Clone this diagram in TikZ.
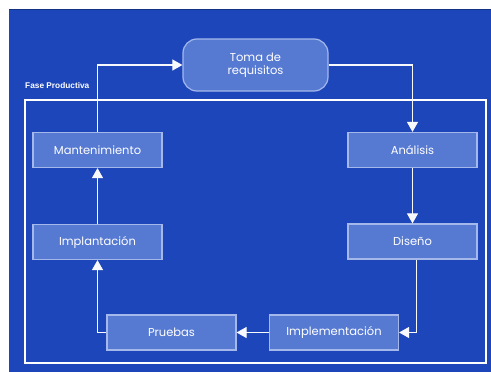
\documentclass[tikz,border=0pt]{standalone}
\usepackage{fontspec}
\setmainfont{Poppins}
\newfontfamily\labelfont{Liberation Sans}
\usetikzlibrary{arrows.meta}
\definecolor{bgblue}{HTML}{1D46BA}
\definecolor{boxfill}{HTML}{5679D2}
\definecolor{boxline}{HTML}{A5B8EC}
\begin{document}
\begin{tikzpicture}[x=1pt,y=-1pt,
  stage/.style={draw=boxline,fill=boxfill,line width=1.2pt,minimum width=129pt,minimum height=35pt,
    text=white,font=\fontsize{11.5}{13}\selectfont\color{white}},
  flow/.style={draw=white!92!boxline,line width=1.1pt,-{Triangle[length=10pt,width=11pt]}}]
  % page margin and background
  \useasboundingbox (0,0) rectangle (491,372);
  \fill[white] (0,0) rectangle (491,372);
  \fill[bgblue] (9,9) rectangle (491,372);
  \draw[bgblue!70!black,line width=0.8pt] (9,9.4) -- (491,9.4);
  % frame around the productive phase
  \draw[white,line width=2.6pt] (25,100) rectangle (486,363);
  \node[anchor=south west,inner sep=0pt,text=white,font=\labelfont\bfseries\fontsize{8.3}{9}\selectfont] (fase) at (25,89) {Fase Productiva};
  % stages
  \node[stage,rounded corners=14pt,minimum width=145pt,minimum height=52pt,align=center,
        font=\fontsize{11.5}{13}\selectfont] (toma) at (255.5,65) {Toma de\\requisitos};
  \node[stage] (mant) at (97.5,150) {Mantenimiento};
  \node[stage] (impl) at (97.5,242) {Implantación};
  \node[stage] (prue) at (171.5,332.5) {Pruebas};
  \node[stage] (impm) at (334,332.5) {Implementación};
  \node[stage] (dise) at (412.5,241.5) {Diseño};
  \node[stage] (anal) at (412.5,150) {Análisis};
  % connectors
  \draw[flow] (mant.north) |- (toma.west);
  \draw[flow] (toma.east) -| (anal.north);
  \draw[flow] (anal.south) -- (dise.north);
  \draw[flow] ([xshift=4pt]dise.south) |- (impm.east);
  \draw[flow] (impm.west) -- (prue.east);
  \draw[flow] (prue.west) -| (impl.south);
  \draw[flow] (impl.north) -- (mant.south);
\end{tikzpicture}
\end{document}
